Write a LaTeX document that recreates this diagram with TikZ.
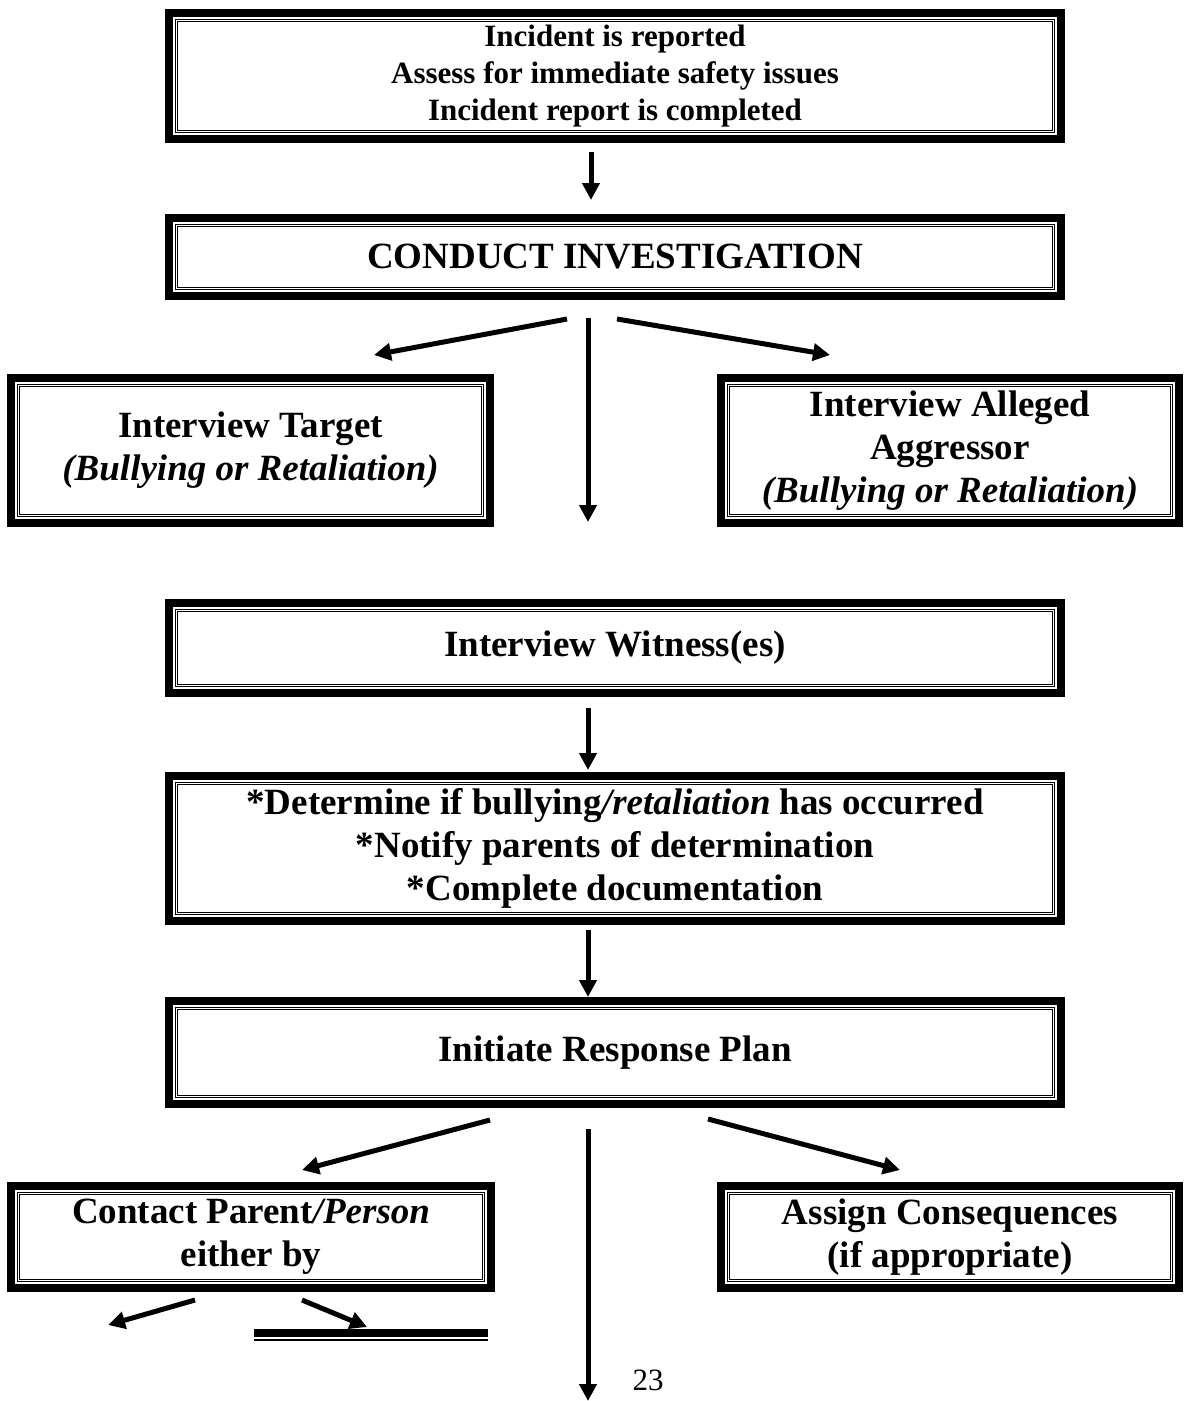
\documentclass[tikz,border=0pt]{standalone}
\usepackage{fontspec}
\setmainfont{Liberation Serif}
\usetikzlibrary{arrows.meta}

\begin{document}
\begin{tikzpicture}[x=1pt,y=-1pt,
    box/.style={draw, line width=8pt, outer sep=0pt, inner sep=0pt, align=center,
        font=\fontsize{37}{43}\selectfont\bfseries},
    innerframe/.style={double, line width=1pt, double distance=1.3pt},
    arr/.style={line width=5pt, -{Triangle[width=17pt,length=17pt]}}]
    \useasboundingbox (0,0) rectangle (1189,1401);

    \node[box, minimum width=892pt, minimum height=126pt,
        font=\fontsize{31}{37}\selectfont\bfseries] (report) at (615,76)
        {Incident is reported\\Assess for immediate safety issues\\Incident report is completed};
    \node[box, minimum width=892pt, minimum height=78pt] (investigate) at (615,257)
        {CONDUCT INVESTIGATION};
    \node[box, minimum width=479pt, minimum height=145pt] (target) at (250.5,450.5)
        {Interview Target\\\textit{(Bullying or Retaliation)}};
    \node[box, minimum width=458pt, minimum height=145pt] (aggressor) at (950,450.5)
        {Interview Alleged\\Aggressor\\\textit{(Bullying or Retaliation)}};
    \node[box, minimum width=892pt, minimum height=90pt] (witness) at (615,648)
        {Interview Witness(es)};
    \node[box, minimum width=892pt, minimum height=145pt] (determine) at (615,848.5)
        {*Determine if bullying\textit{/retaliation} has occurred\\*Notify parents of determination\\*Complete documentation};
    \node[box, minimum width=892pt, minimum height=103pt] (response) at (615,1052.5)
        {Initiate Response Plan};
    \node[box, minimum width=480pt, minimum height=102pt] (contact) at (251,1237)
        {Contact Parent\textit{/Person}\\either by};
    \node[box, minimum width=458pt, minimum height=102pt] (assign) at (950,1237)
        {Assign Consequences\\(if appropriate)};
    \node[inner sep=0pt, font=\fontsize{31}{37}\selectfont] (page) at (648,1380) {23};

    % thin double frame inside every box
    \foreach \b in {report,investigate,target,aggressor,witness,determine,response,contact,assign}
        \draw[innerframe] ([shift={(7.65,7.65)}]\b.north west) rectangle ([shift={(-7.65,-7.65)}]\b.south east);

    \coordinate (A) at (591,152);
    \coordinate (A') at (591,200);
    \draw[arr] (A) -- (A');

    \coordinate (B) at (567,319);
    \coordinate (B1) at (374,355);
    \coordinate (B2) at (588,318);
    \coordinate (B3) at (588,522);
    \coordinate (B4) at (617,319);
    \coordinate (B5) at (830,355);
    \draw[arr] (B) -- (B1);
    \draw[arr] (B2) -- (B3);
    \draw[arr] (B4) -- (B5);

    \coordinate (C) at (588,708);
    \coordinate (C') at (588,770);
    \draw[arr] (C) -- (C');

    \coordinate (D) at (588,930);
    \coordinate (D') at (588,997);
    \draw[arr] (D) -- (D');

    \coordinate (E) at (490,1120);
    \coordinate (E1) at (302,1170);
    \coordinate (E2) at (588,1129);
    \coordinate (E3) at (588,1401);
    \coordinate (E4) at (708,1119);
    \coordinate (E5) at (900,1170);
    \draw[arr] (E) -- (E1);
    \draw[arr] (E2) -- (E3);
    \draw[arr] (E4) -- (E5);

    \coordinate (F) at (195,1300);
    \coordinate (F1) at (108,1325);
    \coordinate (F2) at (302,1300);
    \coordinate (F3) at (367,1327);
    \draw[arr] (F) -- (F1);
    \draw[arr] (F2) -- (F3);

    \coordinate (X) at (254,1333);
    \coordinate (Y) at (488,1333);
    \draw[line width=8pt] (X) -- (Y);
    \draw[line width=2pt] ([yshift=-7pt]X) -- ([yshift=-7pt]Y);
\end{tikzpicture}
\end{document}
